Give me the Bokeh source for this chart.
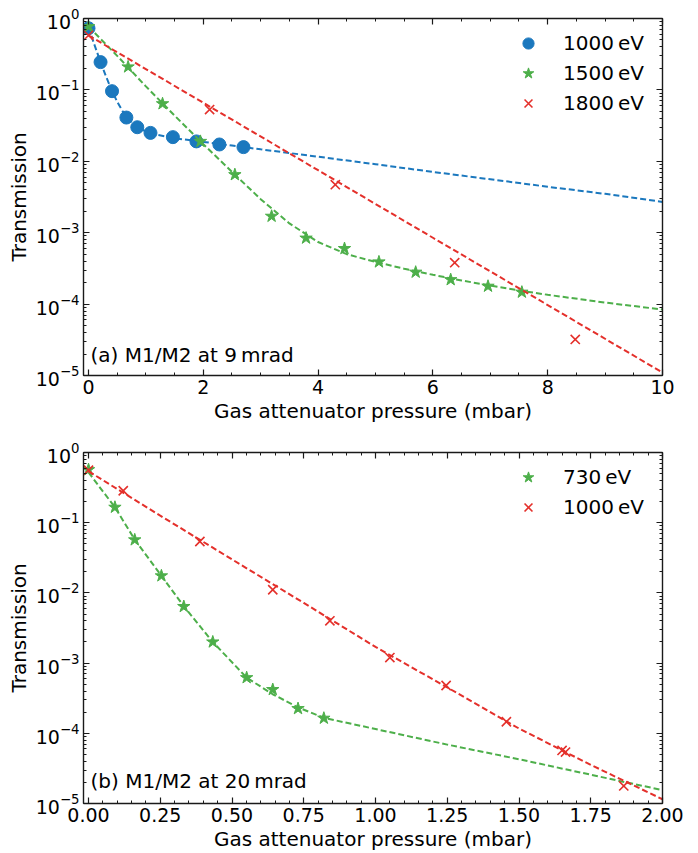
from bokeh.plotting import figure
from bokeh.models import (LogAxis, LinearAxis, Legend, LegendItem, Label, Range1d,
                          LogTicker, SingleIntervalTicker, CustomJSTickFormatter,
                          NumeralTickFormatter)
from bokeh.layouts import column
from bokeh.embed import file_html
from bokeh.resources import INLINE

# ---------------- data: panel (a) M1/M2 at 9 mrad ----------------
a_1000_p = [0.0, 0.21, 0.41, 0.66, 0.85, 1.08, 1.47, 1.88, 2.28, 2.70]
a_1000_t = [0.73, 0.245, 0.096, 0.041, 0.030, 0.025, 0.0218, 0.019, 0.0172, 0.0158]
a_1000_fit_p = [0.0, 0.1, 0.2, 0.3, 0.4, 0.5, 0.6, 0.7, 0.8, 0.9, 1.0, 1.2, 1.5, 2.0, 2.5,
                3.0, 4.0, 5.0, 6.0, 7.0, 8.0, 9.0, 10.0]
a_1000_fit_t = [0.75, 0.436, 0.258, 0.158, 0.101, 0.068, 0.0495, 0.0388, 0.0324, 0.0286,
                0.0262, 0.0235, 0.0210, 0.0187, 0.0166, 0.0147, 0.0116, 0.0091, 0.0071,
                0.0056, 0.0044, 0.0035, 0.0027]

a_1500_p = [0.0, 0.69, 1.29, 1.95, 2.55, 3.19, 3.79, 4.46, 5.06, 5.70, 6.31, 6.96, 7.55]
a_1500_t = [0.77, 0.21, 0.064, 0.019, 0.0065, 0.0017, 0.00084, 0.00060, 0.00039,
            0.00028, 0.00022, 0.000178, 0.000147]
a_1500_fit_p = [0.0, 0.5, 1.0, 1.5, 2.0, 2.5, 3.0, 3.5, 4.0, 4.5, 5.0, 5.5, 6.0, 6.5,
                7.0, 7.5, 8.0, 9.0, 10.0]
a_1500_fit_t = [0.77, 0.30, 0.112, 0.0437, 0.0174, 0.0071, 0.00295, 0.00135, 0.00074,
                0.00050, 0.00039, 0.000313, 0.000257, 0.000214, 0.000182, 0.000155,
                0.000135, 0.000105, 0.000084]

a_1800_p = [0.0, 2.11, 4.30, 6.38, 8.48]
a_1800_t = [0.58, 0.053, 0.0047, 0.00038, 0.000032]
a_1800_fit_p = [0.0, 2.0, 4.0, 6.0, 8.0, 10.0]
a_1800_fit_t = [0.58, 0.066, 0.0075, 0.00085, 0.000097, 0.000011]

# ---------------- data: panel (b) M1/M2 at 20 mrad ----------------
b_730_p = [0.0, 0.092, 0.161, 0.254, 0.332, 0.433, 0.551, 0.642, 0.730, 0.820]
b_730_t = [0.57, 0.166, 0.057, 0.0175, 0.0064, 0.0020, 0.00062, 0.00042, 0.000225, 0.000164]
b_730_fit_p = [0.0, 0.092, 0.161, 0.254, 0.332, 0.433, 0.551, 0.642, 0.730, 0.820,
               1.0, 1.25, 1.5, 1.75, 2.0]
b_730_fit_t = [0.52, 0.166, 0.0575, 0.0175, 0.00646, 0.0020, 0.00062, 0.00036, 0.000234,
               0.000166, 0.000115, 0.000069, 0.0000427, 0.0000257, 0.0000155]

b_1000_p = [0.0, 0.121, 0.388, 0.642, 0.841, 1.050, 1.246, 1.456, 1.650, 1.662, 1.865]
b_1000_t = [0.56, 0.285, 0.054, 0.0111, 0.0040, 0.0012, 0.00048, 0.000146, 0.000057,
            0.000054, 0.0000178]
b_1000_fit_p = [0.0, 0.25, 0.5, 0.75, 1.0, 1.25, 1.5, 1.75, 2.0]
b_1000_fit_t = [0.54, 0.126, 0.030, 0.0072, 0.0017, 0.00045, 0.000117, 0.0000355, 0.0000115]

x_label = "Gas attenuator pressure (mbar)"
y_label = "Transmission"

BLUE = "#1b78be"
GREEN = "#4daf4a"
RED = "#e4302b"
FONT = "DejaVu Sans"
AX = "#1a1a1a"


def style_axis(ax):
    ax.major_tick_in = 6
    ax.major_tick_out = 0
    ax.minor_tick_in = 3
    ax.minor_tick_out = 0
    ax.axis_line_width = 1.4
    ax.axis_line_color = AX
    ax.major_tick_line_color = AX
    ax.minor_tick_line_color = AX
    ax.major_tick_line_width = 1.2
    ax.minor_tick_line_width = 1.0
    ax.major_label_text_font = FONT
    ax.major_label_text_font_size = "19px"
    ax.major_label_text_font_style = "normal"
    ax.major_label_text_color = "black"
    ax.major_label_standoff = 4
    ax.axis_label_text_font = FONT
    ax.axis_label_text_font_size = "20px"
    ax.axis_label_text_font_style = "normal"
    ax.axis_label_text_color = "black"
    ax.axis_label_standoff = 2


def make_panel(height, top, bottom, xr, x_interval, x_minor, x_fmt):
    p = figure(width=698, height=height, y_axis_type="log",
               x_range=Range1d(*xr), y_range=Range1d(1e-5, 1.0),
               output_backend="svg", toolbar_location=None,
               min_border_left=83, min_border_right=36,
               min_border_top=top, min_border_bottom=bottom)
    p.grid.visible = False
    p.outline_line_color = None
    p.background_fill_color = "white"
    bottom_ax = p.below[0]
    left_ax = p.left[0]
    xt = SingleIntervalTicker(interval=x_interval, num_minor_ticks=x_minor)
    yt = LogTicker(num_minor_ticks=10)
    bottom_ax.ticker = xt
    bottom_ax.formatter = NumeralTickFormatter(format=x_fmt)
    left_ax.ticker = yt
    bottom_ax.axis_label = x_label
    left_ax.axis_label = y_label
    top_ax = LinearAxis(ticker=xt, formatter=CustomJSTickFormatter(code="return ''"))
    right_ax = LogAxis(ticker=yt, formatter=CustomJSTickFormatter(code="return ''"))
    p.add_layout(top_ax, "above")
    p.add_layout(right_ax, "right")
    for ax in [bottom_ax, left_ax, top_ax, right_ax]:
        style_axis(ax)
    top_ax.major_label_standoff = 0
    right_ax.major_label_standoff = 0
    return p


def make_legend(items):
    lg = Legend(items=items, location="top_right",
                border_line_color=None, background_fill_alpha=0,
                label_text_font=FONT, label_text_font_size="20px",
                label_text_color="black",
                glyph_width=40, glyph_height=28, label_standoff=15,
                label_width=88, spacing=2, padding=5, margin=11)
    return lg


# ---------------- panel (a) ----------------
pa = make_panel(430, 18, 55, (-0.087, 10.0), 2, 4, "0")

pa.line(a_1000_fit_p, a_1000_fit_t, line_color=BLUE, line_width=2, line_dash="6 3")
ra1 = pa.scatter(a_1000_p, a_1000_t, marker="circle", size=13,
                 fill_color=BLUE, line_color=BLUE)
pa.line(a_1500_fit_p, a_1500_fit_t, line_color=GREEN, line_width=2, line_dash="6 3")
ra2 = pa.scatter(a_1500_p, a_1500_t, marker="star", size=13,
                 fill_color=GREEN, line_color=GREEN)
pa.line(a_1800_fit_p, a_1800_fit_t, line_color=RED, line_width=2, line_dash="6 3")
ra3 = pa.scatter(a_1800_p, a_1800_t, marker="x", size=13,
                 line_color=RED, line_width=1.6)

pa.add_layout(make_legend([
    LegendItem(label="1000\u2009eV", renderers=[ra1]),
    LegendItem(label="1500\u2009eV", renderers=[ra2]),
    LegendItem(label="1800\u2009eV", renderers=[ra3]),
]))
pa.add_layout(Label(x=0.035, y=1.3e-5, text="(a) M1/M2 at 9\u2009mrad",
                    text_font=FONT, text_font_size="20px", text_baseline="bottom",
                    text_color="black"))

# ---------------- panel (b) ----------------
pb = make_panel(423, 22, 46, (-0.0175, 2.0), 0.25, 5, "0.00")

pb.line(b_730_fit_p, b_730_fit_t, line_color=GREEN, line_width=2, line_dash="6 3")
rb1 = pb.scatter(b_730_p, b_730_t, marker="star", size=13,
                 fill_color=GREEN, line_color=GREEN)
pb.line(b_1000_fit_p, b_1000_fit_t, line_color=RED, line_width=2, line_dash="6 3")
rb2 = pb.scatter(b_1000_p, b_1000_t, marker="x", size=13,
                 line_color=RED, line_width=1.6)

pb.add_layout(make_legend([
    LegendItem(label="730\u2009eV", renderers=[rb1]),
    LegendItem(label="1000\u2009eV", renderers=[rb2]),
]))
pb.add_layout(Label(x=0.007, y=1.4e-5, text="(b) M1/M2 at 20\u2009mrad",
                    text_font=FONT, text_font_size="20px", text_baseline="bottom",
                    text_color="black"))

layout = column(pa, pb, spacing=0)
open("out.html", "w").write(file_html(layout, INLINE))
